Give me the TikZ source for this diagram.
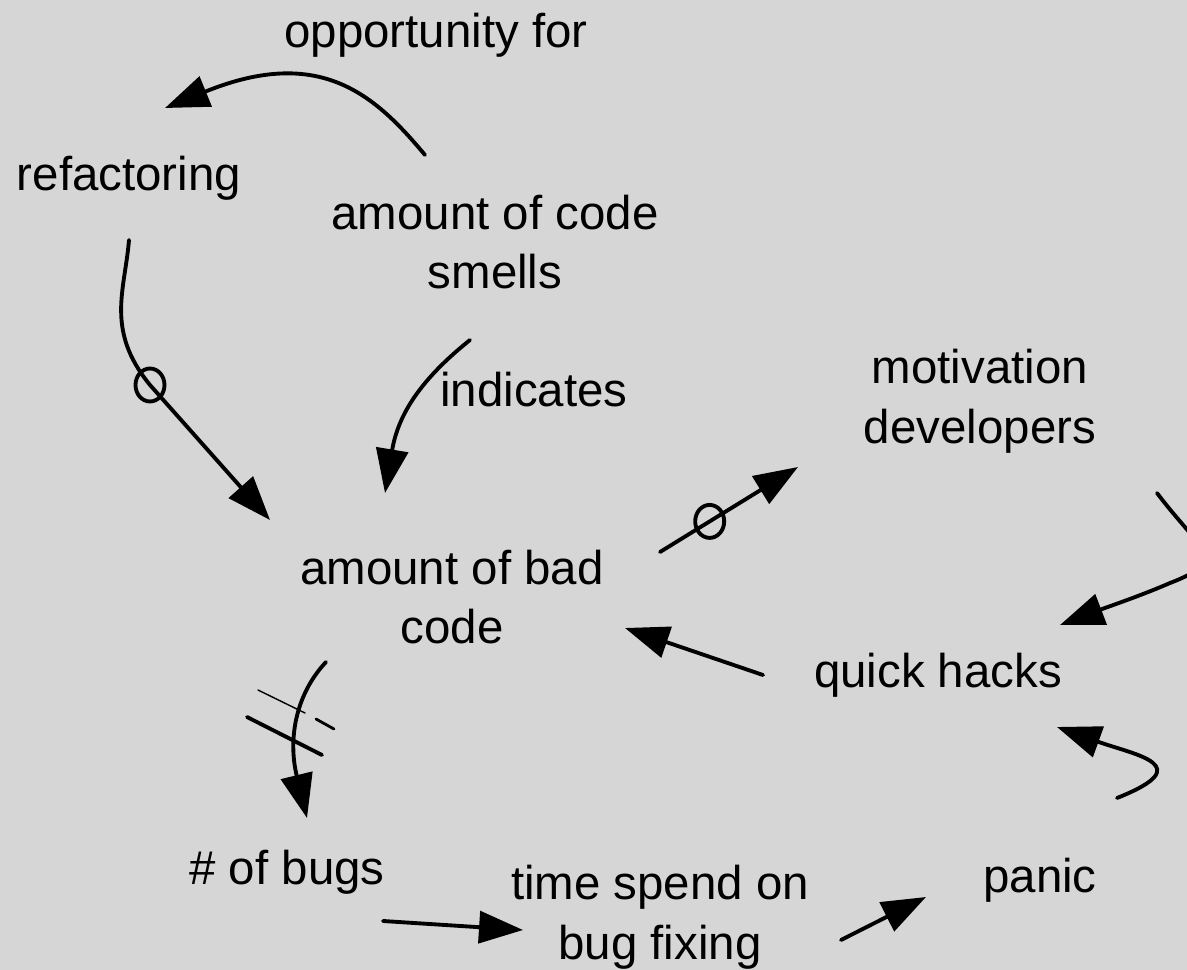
\documentclass[tikz,border=0pt]{standalone}
\usepackage{fontspec}
\setmainfont{Liberation Sans}
\usetikzlibrary{arrows.meta,shapes.geometric}
\definecolor{bggray}{RGB}{214,214,214}

\tikzset{
  lbl/.style={font=\fontsize{27}{34}\selectfont, align=center, inner sep=0pt},
  link/.style={line width=2.2pt, line cap=round, -{Triangle[length=0.88cm,width=0.64cm]}},
  omark/.style={draw, ellipse, line width=2.2pt, minimum width=0.58cm, minimum height=0.66cm, inner sep=0pt},
}

\begin{document}
\begin{tikzpicture}[x=0.02cm, y=-0.02cm]
  \useasboundingbox (0,0) rectangle (1187,970);
  \fill[bggray] (0,0) rectangle (1187,970);
  \clip (0,0) rectangle (1187,970);

  % factors
  \node[lbl] (oppfor) at (436,35) {opportunity for};
  \node[lbl] (refac) at (129,178) {refactoring};
  \node[lbl] (smells) at (495,242) {amount of code\\smells};
  \node[lbl] (indic) at (534,390) {indicates};
  \node[lbl] (motiv) at (980,401) {motivation\\developers};
  \node[lbl] (badcode) at (452,597) {amount of bad\\code};
  \node[lbl] (hacks) at (938,675) {quick hacks};
  \node[lbl] (panic) at (1040,880) {panic};
  \node[lbl] (bugs) at (287,872) {\# of bugs};
  \node[lbl] (fixing) at (660,917) {time spend on\\bug fixing};

  % link ends
  \coordinate (smells-a) at (425,155);
  \coordinate (refac-a) at (165,108);
  \coordinate (refac-b) at (129,240);
  \coordinate (bad-a) at (270,520);
  \coordinate (smells-b) at (470,340);
  \coordinate (bad-b) at (385,493);
  \coordinate (bad-c) at (326,662);
  \coordinate (bugs-a) at (307,818);
  \coordinate (bad-d) at (660,552);
  \coordinate (motiv-a) at (798,467);
  \coordinate (motiv-b) at (1157,493);
  \coordinate (hacks-a) at (1060,625);
  \coordinate (hacks-b) at (763,675);
  \coordinate (bad-e) at (625,628);
  \coordinate (panic-a) at (1117,798);
  \coordinate (hacks-c) at (1057,727);
  \coordinate (bugs-b) at (383,921);
  \coordinate (fixing-a) at (523,930);
  \coordinate (fixing-b) at (841,940);
  \coordinate (panic-b) at (926,897);

  % links
  \draw[link] (smells-a) .. controls (375,95) and (320,45) .. (refac-a);
  \draw[link] (refac-b) .. controls (125,290) and (105,330) .. (150,385) node[omark] {} -- (bad-a);
  \draw[link] (smells-b) .. controls (420,380) and (398,415) .. (bad-b);
  \draw[link] (bad-c) .. controls (295,695) and (288,740) .. (bugs-a);
  \draw[link] (bad-d) -- node[omark, pos=.36] {} (motiv-a);
  \draw[link] (motiv-b) .. controls (1200,550) and (1230,560) .. (1170,583)
    .. controls (1140,596) and (1110,606) .. (hacks-a);
  \draw[link] (hacks-b) -- (bad-e);
  \draw[link] (panic-a) .. controls (1200,765) and (1135,755) .. (hacks-c);
  \draw[link] (bugs-b) -- (fixing-a);
  \draw[link] (fixing-b) -- (panic-b);

  % delay
  \draw[line width=2.2pt, line cap=round] (247,717) -- (322,755);
  \draw[line width=0.8pt, line cap=round] (258,690) -- (305,713);
  \draw[line width=1.6pt, line cap=round] (316,719) -- (334,729);
\end{tikzpicture}
\end{document}
